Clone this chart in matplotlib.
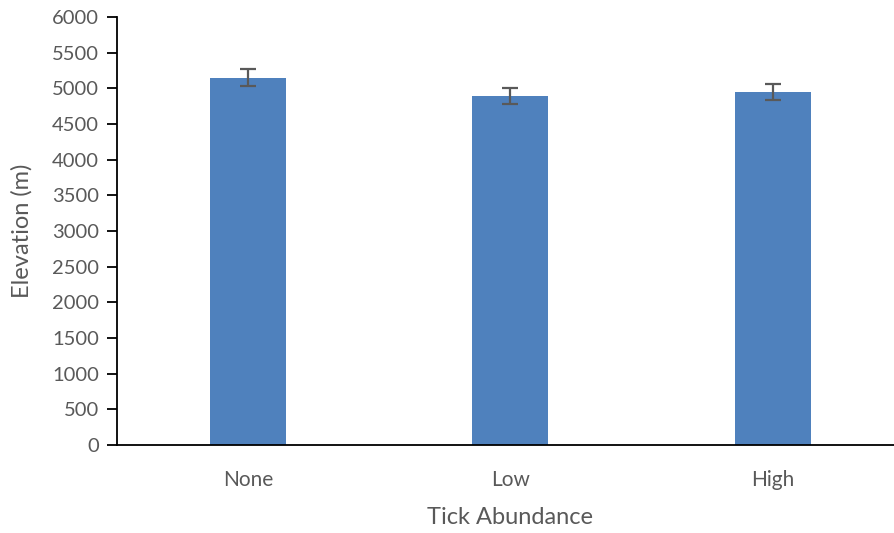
import numpy as np
import matplotlib
matplotlib.use("Agg")
import matplotlib.pyplot as plt

plt.rcParams["font.family"] = ["Lato", "DejaVu Sans"]

categories = ["None", "Low", "High"]
elevation = [5150, 4890, 4950]
errors = [115, 115, 112]
yticks = list(range(0, 6001, 500))

fig = plt.figure(figsize=(8.94, 5.33), dpi=100)
# plot area runs a little past the right edge, as in the original
ax = fig.add_axes([0.131, 0.165, 0.880, 0.803])

x = np.arange(len(categories))
ax.bar(x, elevation, width=0.29, color="#4f81bd", zorder=2)
ax.errorbar(x, elevation, yerr=errors, fmt="none", ecolor="#595959",
            elinewidth=1.6, capsize=6, capthick=1.6, zorder=3)

ax.set_xlim(-0.5, 2.5)
ax.set_ylim(0, 6000)
ax.set_yticks(yticks)
ax.set_xticks(x)
ax.set_xticklabels(categories)

ax.spines["top"].set_visible(False)
ax.spines["right"].set_visible(False)
ax.spines["left"].set_linewidth(1.3)
ax.spines["bottom"].set_linewidth(1.3)
ax.tick_params(axis="y", direction="out", length=7, width=1.3,
               labelsize=14.5, labelcolor="#595959", pad=6)
ax.tick_params(axis="x", length=0, labelsize=15, labelcolor="#595959", pad=18)

ax.set_xlabel("Tick Abundance", fontsize=17, color="#595959", labelpad=12)
ax.set_ylabel("Elevation (m)", fontsize=17, color="#595959", labelpad=14)

fig.savefig("out.png", dpi=100)
